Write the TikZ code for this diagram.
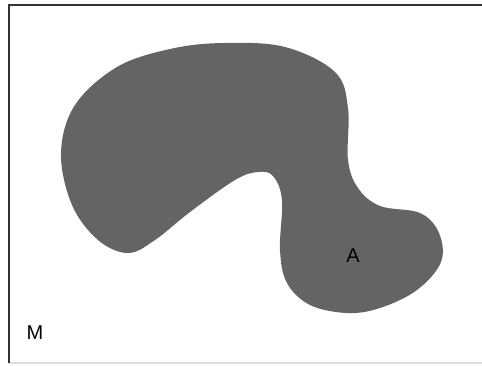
\documentclass[tikz,border=0pt]{standalone}
\usepackage{fontspec}
\setmainfont{Liberation Sans}
\definecolor{blob}{HTML}{646464}
\definecolor{frameline}{HTML}{333333}
\definecolor{lightline}{HTML}{DDDDDD}
\begin{document}
\begin{tikzpicture}[x=1pt,y=-1pt,
  lbl/.style={inner sep=0pt,font=\fontsize{20}{20}\selectfont}]
\useasboundingbox (0,0) rectangle (482,365);
\fill[white] (0,0) rectangle (482,365);
% frame
\coordinate (tl) at (9,5);
\coordinate (tr) at (482,5);
\coordinate (bl) at (9,363);
\coordinate (br) at (482,363);
\draw[lightline,line width=1.2pt] (bl) -- (br);
\draw[frameline,line width=1.6pt] (tr) -- (tl) -- (bl);
% region A
\fill[blob] plot[smooth cycle,tension=0.6] coordinates {
(61,153) (75,105) (117,67) (170,49) (223,43) (285,47) (335,72) (348,108)
(348,160) (358,188) (380,206) (420,213) (439,233) (441,262) (417,290)
(380,308) (347,313) (310,305) (287,283) (280,250) (282,200) (273,176)
(258,172) (235,180) (190,212) (155,240) (128,253) (98,240) (72,205)};
\node[lbl] (A) at (353,256) {A};
\node[lbl] (M) at (35,333) {M};
\end{tikzpicture}
\end{document}
